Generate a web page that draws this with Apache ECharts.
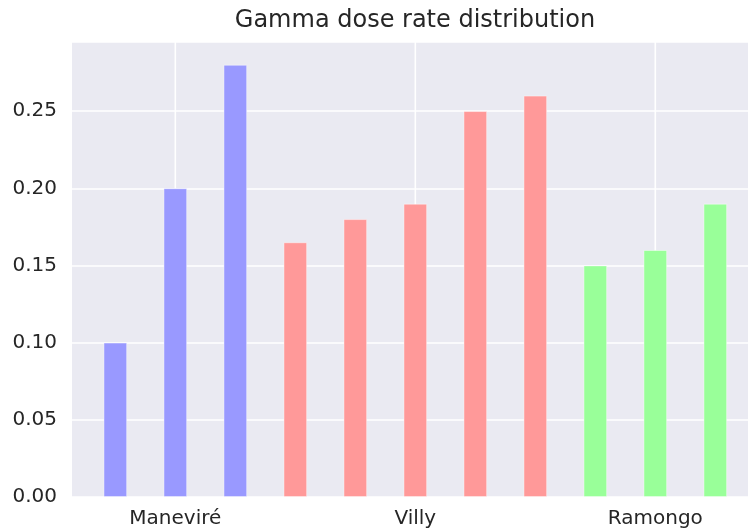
<!DOCTYPE html>
<html>
<head>
<meta charset="utf-8">
<script src="https://cdn.jsdelivr.net/npm/echarts@6/dist/echarts.min.js"></script>
<style>html,body{margin:0;padding:0;background:#fff;}#c{width:748px;height:531px;}</style>
</head>
<body>
<div id="c"></div>
<script>
const title = 'Gamma dose rate distribution';
const categories = ['Maneviré', 'Villy', 'Ramongo'];
const categoryPositions = [1, 5, 9];
const manevirePositions = [0, 1, 2];
const maneVireValues = [0.10, 0.20, 0.28];
const villyPositions = [3, 4, 5, 6, 7];
const villyValues = [0.165, 0.18, 0.19, 0.25, 0.26];
const ramongoPositions = [8, 9, 10];
const ramongoValues = [0.15, 0.16, 0.19];
const yTicks = [0, 0.05, 0.10, 0.15, 0.20, 0.25];

const yMax = 0.2948;
const xMin = -0.722, xMax = 10.545;
const textColor = '#262626';
const font = 'DejaVu Sans';

function pairs(xs, ys) { return xs.map((x, i) => [x, ys[i]]); }

const barCommon = {
  type: 'bar', barWidth: 23.5, barGap: '-100%', z: 3,
  itemStyle: { borderColor: 'rgba(255,255,255,0.55)', borderWidth: 0.8 }
};

const gridSeries = categoryPositions.map(p => ({
  type: 'line', data: [[p, 0], [p, yMax]], symbol: 'none', silent: true, z: 1,
  lineStyle: { color: '#ffffff', width: 1.6 }, animation: false
}));

const chart = echarts.init(document.getElementById('c'), null, { renderer: 'canvas' });
chart.setOption({
  animation: false,
  title: {
    text: title, left: 415, top: 9, textAlign: 'center', padding: 0,
    textStyle: { fontFamily: font, fontSize: 24, fontWeight: 'normal', color: textColor }
  },
  grid: { left: 72, right: 0, top: 42, bottom: 34, show: true, backgroundColor: '#EAEAF2', borderWidth: 0 },
  xAxis: {
    type: 'value', min: xMin, max: xMax,
    axisLine: { show: false }, axisTick: { show: false }, splitLine: { show: false },
    axisLabel: {
      customValues: categoryPositions,
      formatter: v => { const i = categoryPositions.indexOf(Math.round(v)); return i >= 0 ? categories[i] : ''; },
      fontFamily: font, fontSize: 20, color: textColor, margin: 12
    }
  },
  yAxis: {
    type: 'value', min: 0, max: yMax, interval: 0.05,
    axisLine: { show: false }, axisTick: { show: false },
    splitLine: { show: true, lineStyle: { color: '#ffffff', width: 1.6 } },
    axisLabel: {
      customValues: yTicks,
      formatter: v => v.toFixed(2),
      fontFamily: font, fontSize: 20, color: textColor, margin: 15
    }
  },
  series: [
    ...gridSeries,
    Object.assign({}, barCommon, { name: categories[0], data: pairs(manevirePositions, maneVireValues), itemStyle: Object.assign({}, barCommon.itemStyle, { color: '#9999FF' }) }),
    Object.assign({}, barCommon, { name: categories[1], data: pairs(villyPositions, villyValues), itemStyle: Object.assign({}, barCommon.itemStyle, { color: '#FF9999' }) }),
    Object.assign({}, barCommon, { name: categories[2], data: pairs(ramongoPositions, ramongoValues), itemStyle: Object.assign({}, barCommon.itemStyle, { color: '#99FF99' }) })
  ]
});
</script>
</body>
</html>
